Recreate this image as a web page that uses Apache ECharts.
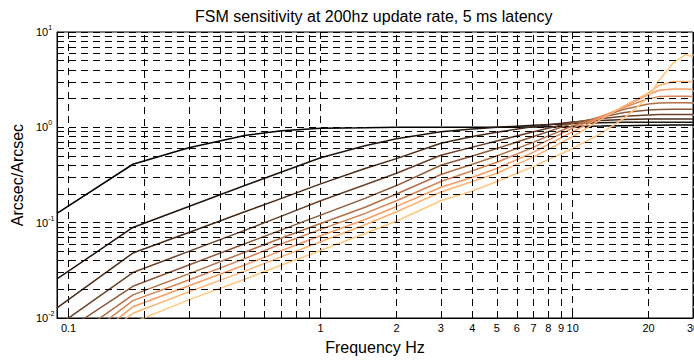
<!DOCTYPE html>
<html>
<head>
<meta charset="utf-8">
<script src="https://cdn.jsdelivr.net/npm/echarts@6/dist/echarts.min.js"></script>
<style>
html,body{margin:0;padding:0;background:#fff;}
#chart{width:694px;height:360px;}
</style>
</head>
<body>
<div id="chart"></div>
<script>
// ---- data ----
const freq = [0.09, 0.18, 0.3, 0.5, 0.7, 1, 1.5, 2, 3, 4, 5, 7, 10, 13, 16, 20, 22, 25, 28, 30];
const curve1  = [0.125, 0.41, 0.61, 0.82, 0.92, 0.98, 0.99, 1.0, 1.0, 1.0, 1.0, 1.01, 1.02, 1.03, 1.04, 1.05, 1.05, 1.055, 1.055, 1.055];
const curve2  = [0.0257, 0.089, 0.148, 0.245, 0.34, 0.48, 0.64, 0.76, 0.90, 0.96, 1.0, 1.05, 1.10, 1.12, 1.13, 1.13, 1.13, 1.13, 1.13, 1.13];
const curve3  = [0.0128, 0.048, 0.079, 0.13, 0.18, 0.255, 0.37, 0.47, 0.68, 0.80, 0.89, 1.02, 1.14, 1.18, 1.21, 1.22, 1.22, 1.22, 1.22, 1.22];
const curve4  = [0.0082, 0.030, 0.05, 0.083, 0.117, 0.17, 0.25, 0.33, 0.51, 0.62, 0.72, 0.90, 1.13, 1.24, 1.31, 1.35, 1.36, 1.36, 1.36, 1.36];
const curve5  = [0.0064, 0.0215, 0.036, 0.06, 0.084, 0.12, 0.18, 0.245, 0.40, 0.50, 0.60, 0.80, 1.10, 1.28, 1.43, 1.52, 1.54, 1.55, 1.55, 1.55];
const curve6  = [0.0048, 0.0175, 0.029, 0.049, 0.069, 0.098, 0.145, 0.20, 0.32, 0.41, 0.50, 0.70, 1.04, 1.30, 1.55, 1.76, 1.80, 1.81, 1.81, 1.80];
const curve7  = [0.0038, 0.0152, 0.025, 0.042, 0.060, 0.085, 0.125, 0.17, 0.27, 0.35, 0.43, 0.62, 0.98, 1.30, 1.62, 2.0, 2.1, 2.12, 2.12, 2.1];
const curve8  = [0.0031, 0.0131, 0.0218, 0.036, 0.051, 0.073, 0.108, 0.148, 0.235, 0.30, 0.37, 0.55, 0.90, 1.28, 1.65, 2.2, 2.45, 2.52, 2.52, 2.5];
const curve9  = [0.0028, 0.0112, 0.0188, 0.031, 0.044, 0.063, 0.095, 0.13, 0.21, 0.27, 0.33, 0.49, 0.80, 1.22, 1.68, 2.3, 2.75, 3.02, 3.03, 3.0];
const curve10 = [0.0024, 0.0090, 0.0155, 0.0255, 0.036, 0.051, 0.077, 0.104, 0.17, 0.215, 0.27, 0.39, 0.60, 0.87, 1.25, 2.07, 3.1, 4.7, 5.8, 5.5];
const curves = [curve1, curve2, curve3, curve4, curve5, curve6, curve7, curve8, curve9, curve10];

// tick / grid values
const xMinorGrid = [0.2, 0.3, 0.4, 0.5, 0.6, 0.7, 0.8, 0.9, 2, 3, 4, 5, 6, 7, 8, 9, 20, 30];
const xMinorLabels = [2, 3, 4, 5, 6, 7, 8, 9, 20, 30];
const yMinorGrid = [0.02, 0.03, 0.04, 0.05, 0.06, 0.07, 0.08, 0.09, 0.2, 0.3, 0.4, 0.5, 0.6, 0.7, 0.8, 0.9, 2, 3, 4, 5, 6, 7, 8, 9];

const titleText = 'FSM sensitivity at 200hz update rate, 5 ms latency';
const xName = 'Frequency Hz';
const yName = 'Arcsec/Arcsec';

// ---- styles ----
const colors = ['#000000', '#23160e', '#472c1c', '#6a422a', '#8e5938', '#b16f46', '#d58555', '#f89b63', '#ffb171', '#ffc77f'];
const FONT = 'Liberation Sans, Arial, Helvetica, sans-serif';
const dash = [7, 5];

const chart = echarts.init(document.getElementById('chart'), null, {renderer: 'svg'});

const gridSeries = {
  type: 'line',
  name: 'grid',
  data: [],
  silent: true,
  z: 1,
  markLine: {
    silent: true,
    symbol: ['none', 'none'],
    animation: false,
    lineStyle: {color: '#000', width: 1, type: dash},
    label: {show: false},
    emphasis: {disabled: true},
    data: xMinorGrid.map(v => ({
      xAxis: v,
      label: {
        show: xMinorLabels.indexOf(v) >= 0,
        position: 'start',
        formatter: String(v),
        color: '#000',
        fontFamily: FONT,
        fontSize: 11,
        distance: 4
      }
    })).concat(yMinorGrid.map(v => ({yAxis: v})))
  }
};

const lineSeries = curves.map((c, i) => ({
  type: 'line',
  name: 'curve' + (i + 1),
  data: freq.map((f, k) => [f, c[k]]),
  showSymbol: false,
  symbol: 'none',
  z: 3,
  lineStyle: {color: colors[i], width: 1.5},
  itemStyle: {color: colors[i]},
  emphasis: {disabled: true}
}));

chart.setOption({
  animation: false,
  backgroundColor: '#fff',
  textStyle: {fontFamily: FONT},
  title: {
    text: titleText,
    left: 190,
    top: 3,
    textStyle: {fontFamily: FONT, fontSize: 16, fontWeight: 'normal', color: '#000'}
  },
  grid: {
    left: 57, right: 1, top: 32, bottom: 37,
    show: true, borderColor: '#000', borderWidth: 1, backgroundColor: '#fff'
  },
  xAxis: {
    type: 'log',
    logBase: 10,
    min: 0.09,
    max: 30,
    name: xName,
    nameLocation: 'middle',
    nameGap: 21,
    nameTextStyle: {fontFamily: FONT, fontSize: 16, color: '#000'},
    axisLine: {show: true, lineStyle: {color: '#000', width: 1}},
    axisTick: {show: true, inside: true, length: 5, lineStyle: {color: '#000'}},
    axisLabel: {
      show: true, color: '#000', fontFamily: FONT, fontSize: 11, margin: 4,
      showMinLabel: false, showMaxLabel: false,
      formatter: v => String(v)
    },
    splitLine: {show: true, lineStyle: {color: '#000', width: 1, type: dash}}
  },
  yAxis: {
    type: 'log',
    logBase: 10,
    min: 0.01,
    max: 10,
    name: yName,
    nameLocation: 'middle',
    nameRotate: 90,
    nameGap: 28,
    nameTextStyle: {fontFamily: FONT, fontSize: 16, color: '#000'},
    axisLine: {show: true, lineStyle: {color: '#000', width: 1}},
    axisTick: {show: true, inside: true, length: 5, lineStyle: {color: '#000'}},
    axisLabel: {
      show: true, color: '#000', fontFamily: FONT, margin: 21, align: 'left',
      formatter: v => '{b|10}{s|' + Math.round(Math.log10(v)) + '}',
      rich: {
        b: {fontSize: 11, fontFamily: FONT, color: '#000', verticalAlign: 'middle', lineHeight: 16},
        s: {fontSize: 7, fontFamily: FONT, color: '#000', verticalAlign: 'top', lineHeight: 8}
      }
    },
    splitLine: {show: true, lineStyle: {color: '#000', width: 1, type: dash}}
  },
  series: [gridSeries].concat(lineSeries)
});
</script>
</body>
</html>
